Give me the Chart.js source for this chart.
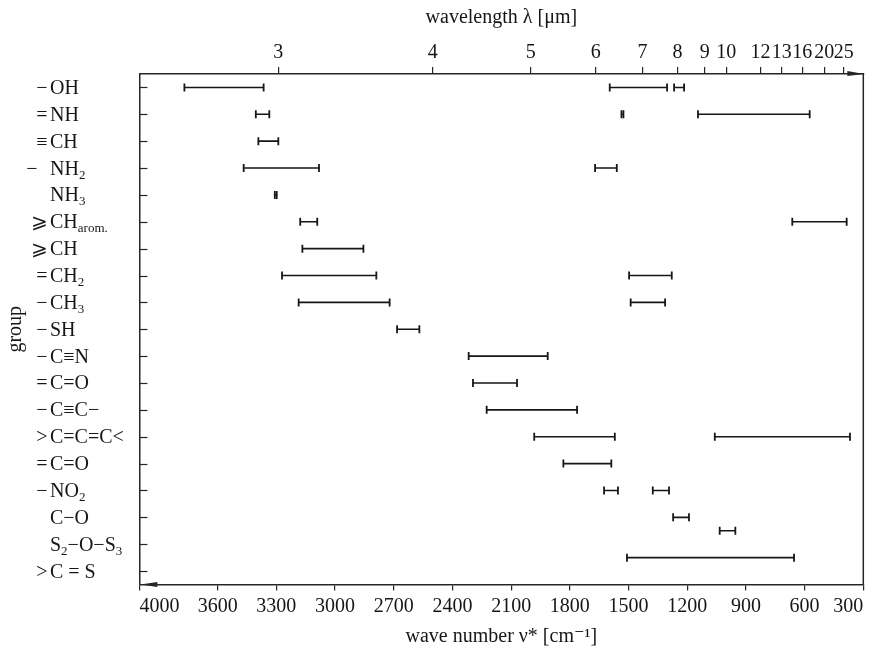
<!DOCTYPE html>
<html>
<head>
<meta charset="utf-8">
<script src="https://cdn.jsdelivr.net/npm/chart.js@4.4.1/dist/chart.umd.min.js"></script>
<style>
  html, body { margin: 0; padding: 0; background: #fff; }
  #wrap { width: 878px; height: 651px; }
</style>
</head>
<body>
<div id="wrap"><canvas id="c" width="878" height="651"></canvas></div>
<script>
// Functional groups, top to bottom ("_{..}" marks a subscript)
const groups = ['−OH', '=NH', '≡CH', '−\u2002NH_{2}', 'NH_{3}', '⩾CH_{arom.}', '⩾CH', '=CH_{2}', '−CH_{3}',
  '−SH', '−C≡N', '=C=O', '−C≡C−', '>C=C=C<', '=C=O', '−NO_{2}', 'C−O', 'S_{2}−O−S_{3}', '>C = S'];

// Absorption bands: row on the group axis, and range in wave numbers [cm^-1]
const bandRow  = [0, 0, 0, 1, 1, 1, 2, 3, 3, 4, 5, 5, 6, 7, 7, 8, 8, 9, 10, 11, 12, 13, 13, 14, 15, 15, 16, 16.5, 17.5];
const bandFrom = [3770, 1596, 1267, 3405, 1536, 1145, 3392, 3467, 1671, 3308, 3178, 663, 3167, 3271, 1497, 3186, 1489,
  2683, 2317, 2295, 2225, 1982, 1059, 1833, 1625, 1376, 1272, 1034, 1508];
const bandTo   = [3365, 1303, 1216, 3336, 1526, 574, 3290, 3082, 1560, 3298, 3091, 385, 2855, 2789, 1279, 2721, 1313,
  2569, 1913, 2070, 1763, 1570, 368, 1588, 1554, 1293, 1191, 954, 654];

// Bottom axis ticks (wave number)
const waveNumberTicks = [4000, 3600, 3300, 3000, 2700, 2400, 2100, 1800, 1500, 1200, 900, 600, 300];
// Top axis: wavelength labels and the wave number each one sits at
const wavelengthLabels = ['3', '4', '5', '6', '7', '8', '9', '10', '12', '13', '16', '20', '25'];
const wavelengthTickAt = [3290, 2500, 2000, 1667, 1429, 1250, 1111, 1000, 825, 717, 612, 500, 400];

const SERIF = "'Liberation Serif', 'Times New Roman', 'DejaVu Serif', serif";
const INK = '#161616';
const AXIS = '#262626';

// One broken line: each band is a segment, a null point ends it
const points = [];
bandRow.forEach((r, i) => {
  points.push({ x: bandFrom[i], y: r }, { x: bandTo[i], y: r }, { x: bandTo[i], y: null });
});

function splitLabel(text) {
  const m = text.match(/^[^A-Za-z]*/);
  const prefix = m ? m[0] : '';
  const body = text.slice(prefix.length);
  const parts = [];
  const re = /_\{([^}]*)\}/g;
  let last = 0, k;
  while ((k = re.exec(body)) !== null) {
    if (k.index > last) parts.push({ t: body.slice(last, k.index), sub: false });
    parts.push({ t: k[1], sub: true });
    last = re.lastIndex;
  }
  if (last < body.length) parts.push({ t: body.slice(last), sub: false });
  return { prefix, parts };
}

const framePlugin = {
  id: 'frame',
  afterDraw(chart) {
    const { ctx, chartArea: a, scales } = chart;
    const y = scales.y;
    ctx.save();
    ctx.strokeStyle = AXIS;
    ctx.fillStyle = AXIS;

    // right edge of the frame
    ctx.lineWidth = 1.5;
    ctx.beginPath();
    ctx.moveTo(a.right, a.top);
    ctx.lineTo(a.right, a.bottom);
    ctx.stroke();

    // group ticks point into the plot
    ctx.lineWidth = 1.2;
    groups.forEach((g, i) => {
      const py = Math.round(y.getPixelForValue(i)) + 0.5;
      ctx.beginPath();
      ctx.moveTo(a.left, py);
      ctx.lineTo(a.left + 8, py);
      ctx.stroke();
    });

    // arrowheads: wavelength grows to the right, wave number to the left
    ctx.beginPath();
    ctx.moveTo(a.right + 1, a.top);
    ctx.lineTo(a.right - 16, a.top - 3);
    ctx.lineTo(a.right - 16, a.top + 2);
    ctx.closePath();
    ctx.fill();
    ctx.beginPath();
    ctx.moveTo(a.left + 1, a.bottom);
    ctx.lineTo(a.left + 18, a.bottom - 2.5);
    ctx.lineTo(a.left + 18, a.bottom + 2.5);
    ctx.closePath();
    ctx.fill();

    // group labels with subscripts
    const main = '20px ' + SERIF;
    const small = '13px ' + SERIF;
    ctx.fillStyle = INK;
    ctx.textBaseline = 'alphabetic';
    groups.forEach((g, i) => {
      const base = y.getPixelForValue(i) + 6.5;
      const { prefix, parts } = splitLabel(g);
      ctx.font = main;
      if (prefix) {
        ctx.textAlign = 'right';
        ctx.fillText(prefix, 47.5, base);
      }
      ctx.textAlign = 'left';
      let x = 50;
      parts.forEach(p => {
        ctx.font = p.sub ? small : main;
        ctx.fillText(p.t, x, base + (p.sub ? 4 : 0));
        x += ctx.measureText(p.t).width;
      });
    });
    ctx.restore();
  }
};

new Chart(document.getElementById('c'), {
  type: 'line',
  data: {
    datasets: [{
      data: points,
      xAxisID: 'x',
      yAxisID: 'y',
      borderColor: INK,
      borderWidth: 1.6,
      spanGaps: false,
      pointStyle: 'line',
      pointRotation: 90,
      pointRadius: 4,
      pointHoverRadius: 4,
      pointBorderColor: INK,
      pointBorderWidth: 1.8,
      fill: false,
      tension: 0
    }]
  },
  options: {
    responsive: false,
    animation: false,
    events: [],
    layout: { autoPadding: false, padding: { left: 0, right: 14.7, top: 0, bottom: 0 } },
    plugins: { legend: { display: false }, tooltip: { enabled: false } },
    scales: {
      x: {
        type: 'linear',
        position: 'bottom',
        min: 300, max: 4000,
        reverse: true,
        afterBuildTicks: s => { s.ticks = waveNumberTicks.slice().sort((p, q) => p - q).map(v => ({ value: v })); },
        afterFit: s => { s.height = 66.5; },
        grid: { drawOnChartArea: false, drawTicks: true, tickLength: 6, color: AXIS, lineWidth: 1.2 },
        border: { display: true, color: AXIS, width: 1.5 },
        ticks: { align: 'inner', autoSkip: false, maxRotation: 0, padding: 4, color: INK,
                 font: { family: SERIF, size: 20 },
                 callback: v => String(v) },
        title: { display: true, text: 'wave number ν* [cm⁻¹]', color: INK,
                 font: { family: SERIF, size: 20 }, padding: { top: 0, bottom: 2 }, align: 'center' }
      },
      x2: {
        type: 'linear',
        position: 'top',
        min: 300, max: 4000,
        reverse: true,
        afterBuildTicks: s => { s.ticks = wavelengthTickAt.map(v => ({ value: v })); },
        afterFit: s => { s.height = 74; },
        grid: { drawOnChartArea: false, drawTicks: true, tickLength: 7, color: AXIS, lineWidth: 1.2 },
        border: { display: true, color: AXIS, width: 1.5 },
        ticks: { autoSkip: false, maxRotation: 0, padding: 2, color: INK,
                 font: { family: SERIF, size: 20 },
                 callback: v => { const i = wavelengthTickAt.indexOf(v); return i >= 0 ? wavelengthLabels[i] : ''; } },
        title: { display: true, text: 'wavelength λ [μm]', color: INK,
                 font: { family: SERIF, size: 20 }, padding: { top: 6, bottom: 0 } }
      },
      y: {
        type: 'linear',
        position: 'left',
        min: -0.5, max: 18.5,
        reverse: true,
        afterFit: s => { s.width = 139.4; },
        grid: { display: false },
        border: { display: true, color: AXIS, width: 1.5 },
        ticks: { display: false, stepSize: 1 },
        title: { display: true, text: 'group', color: INK,
                 font: { family: SERIF, size: 20 }, padding: { top: 4, bottom: 0 } }
      }
    }
  },
  plugins: [framePlugin]
});
</script>
</body>
</html>
